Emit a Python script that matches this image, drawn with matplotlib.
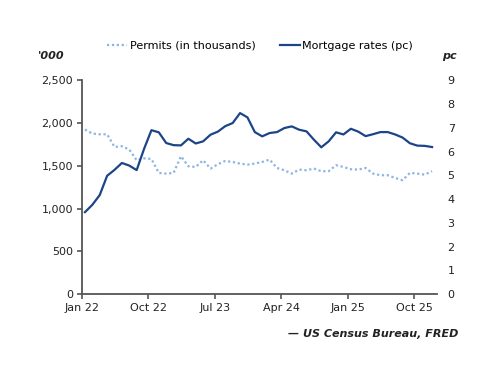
import matplotlib
matplotlib.use("Agg")
import matplotlib.pyplot as plt
import numpy as np

# monthly data, Jan 2022 - Dec 2025
permits = [1924, 1877, 1869, 1869, 1721, 1729, 1690, 1565, 1588, 1580, 1417, 1409,
           1417, 1612, 1495, 1487, 1565, 1468, 1518, 1557, 1545, 1526, 1514, 1526,
           1545, 1573, 1475, 1448, 1409, 1456, 1448, 1468, 1437, 1437, 1507, 1487,
           1460, 1456, 1475, 1409, 1390, 1390, 1358, 1332, 1417, 1409, 1397, 1437]
mortgage = [3.45, 3.76, 4.17, 4.98, 5.23, 5.52, 5.41, 5.22, 6.11, 6.90, 6.81, 6.36,
            6.27, 6.26, 6.54, 6.34, 6.43, 6.71, 6.84, 7.07, 7.20, 7.62, 7.44, 6.82,
            6.64, 6.78, 6.82, 6.99, 7.06, 6.92, 6.85, 6.50, 6.18, 6.43, 6.81, 6.72,
            6.96, 6.84, 6.65, 6.73, 6.82, 6.82, 6.72, 6.59, 6.35, 6.25, 6.24, 6.19]
tick_pos = [0, 9, 18, 27, 36, 45]
tick_labels = ["Jan 22", "Oct 22", "Jul 23", "Apr 24", "Jan 25", "Oct 25"]

navy = "#1c4587"
light = "#8db4e2"
grey = "#555555"

plt.rcParams["font.family"] = "DejaVu Sans"
plt.rcParams["font.size"] = 8

fig = plt.figure(figsize=(5, 3.86), dpi=100)
ax = fig.add_axes([0.164, 0.238, 0.709, 0.554])
ax2 = ax.twinx()

x = np.arange(len(permits)) + 0.4
l1, = ax.plot(x, permits, color=light, lw=1.6, ls=(0, (1, 1.2)), label="Permits (in thousands)")
l2, = ax2.plot(x, mortgage, color=navy, lw=1.6, label="Mortgage rates (pc)")

ax.set_xlim(0, 48)
ax.set_ylim(0, 2500)
ax.set_yticks(np.arange(0, 2501, 500))
ax.set_yticklabels([f"{v:,}" for v in range(0, 2501, 500)])
ax2.set_ylim(0, 9)
ax2.set_yticks(range(0, 10))
ax.set_xticks(tick_pos)
ax.set_xticklabels(tick_labels)

for a in (ax, ax2):
    for s in a.spines.values():
        s.set_visible(False)
ax.spines["left"].set_visible(True)
ax.spines["bottom"].set_visible(True)
ax.spines["left"].set_color(grey)
ax.spines["bottom"].set_color(grey)
ax.spines["left"].set_linewidth(1.3)
ax.spines["bottom"].set_linewidth(1.3)
ax.tick_params(axis="both", direction="out", length=3.5, width=1.2, color=grey,
               labelsize=8, labelcolor="#222222", pad=3)
ax2.tick_params(axis="y", length=0, pad=8, labelsize=8, labelcolor="#222222")

fig.text(0.076, 0.848, "'000", fontsize=8, fontweight="bold", style="italic", color="#222222")
fig.text(0.885, 0.848, "pc", fontsize=8, fontweight="bold", style="italic", color="#222222")
fig.text(0.917, 0.128, "\u2014 US Census Bureau, FRED", fontsize=8, fontweight="bold",
         style="italic", ha="right", color="#222222")

fig.legend(handles=[l1, l2], loc="center", bbox_to_anchor=(0.52, 0.882), ncol=2,
           frameon=False, fontsize=8, handlelength=1.8, handletextpad=0.2, columnspacing=2.2)

fig.savefig("out.png", dpi=100)
